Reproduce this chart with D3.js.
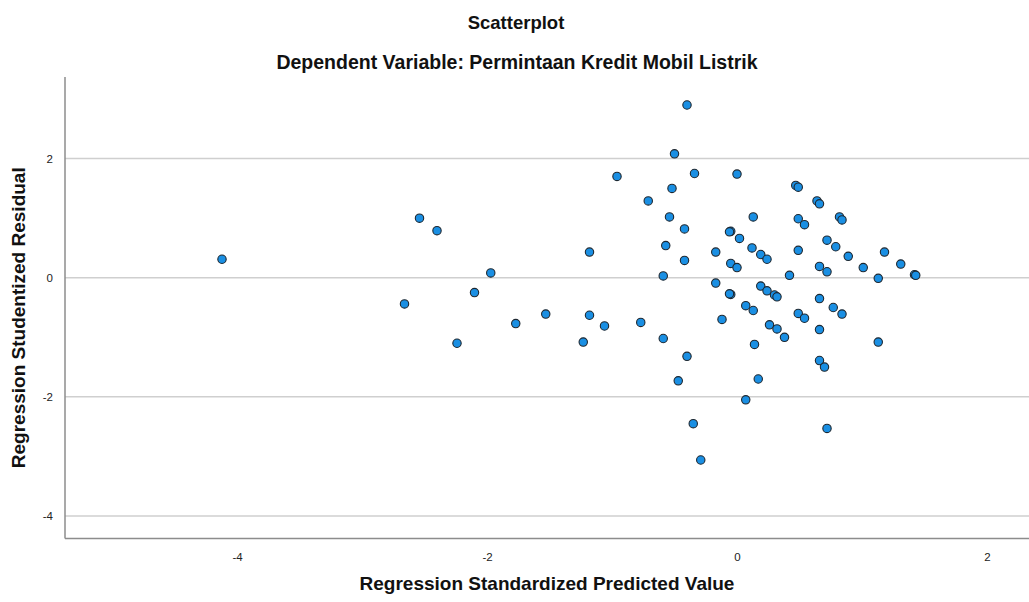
<!DOCTYPE html>
<html><head><meta charset="utf-8">
<script src="https://cdn.jsdelivr.net/npm/d3@7"></script>
<style>body{margin:0;background:#fff}svg{display:block}text{font-family:"Liberation Sans",Arial,sans-serif}</style>
</head><body>
<svg id="c" width="1029" height="602"></svg>
<script>
const predicted = [-4.12,-2.54,-2.40,-1.97,-2.10,-2.66,-2.24,-0.71,-0.52,-0.54,-0.57,-1.18,-0.59,-1.77,-1.53,-1.18,-1.06,-0.77,-1.23,-0.59,
-0.40,-0.50,-0.96,-0.34,0.00,0.47,0.49,0.64,0.66,0.13,-0.42,0.49,0.54,0.82,0.84,-0.05,-0.06,0.02,-0.17,-0.42,
0.12,0.19,0.24,0.49,0.72,0.79,0.89,1.18,1.01,1.31,1.42,1.43,1.13,-0.05,0.00,-0.17,0.42,0.66,0.72,-0.05,
-0.06,0.19,0.24,0.30,0.32,0.07,0.13,0.66,0.49,0.54,0.77,0.84,-0.12,0.26,0.32,0.38,0.66,0.14,1.13,-0.40,
0.66,0.70,-0.47,0.17,0.07,-0.35,0.72,-0.29];
const residual = [0.31,1.00,0.79,0.08,-0.25,-0.44,-1.10,1.29,1.50,1.02,0.54,0.43,0.03,-0.77,-0.61,-0.63,-0.81,-0.75,-1.08,-1.02,
2.90,2.08,1.70,1.75,1.74,1.55,1.52,1.29,1.24,1.02,0.82,0.99,0.89,1.02,0.97,0.78,0.77,0.66,0.43,0.29,
0.50,0.39,0.31,0.46,0.63,0.52,0.36,0.43,0.17,0.23,0.05,0.04,-0.01,0.24,0.17,-0.09,0.04,0.19,0.10,-0.28,
-0.27,-0.14,-0.22,-0.29,-0.32,-0.47,-0.55,-0.35,-0.60,-0.68,-0.50,-0.61,-0.70,-0.79,-0.86,-1.00,-0.87,-1.12,-1.08,-1.32,
-1.39,-1.50,-1.73,-1.70,-2.05,-2.45,-2.53,-3.06];
const xTicks = [-4,-2,0,2];
const yTicks = [-4,-2,0,2];
const xDomain = [-5.376, 2.336];
const yDomain = [-4.378, 3.37];
const chartTitle = "Scatterplot";
const chartSubtitle = "Dependent Variable: Permintaan Kredit Mobil Listrik";
const xLabel = "Regression Standardized Predicted Value";
const yLabel = "Regression Studentized Residual";

const svg = d3.select("#c");
const L = 65, R = 1029, T = 77, B = 538.5;
const x = d3.scaleLinear().domain(xDomain).range([L, R]);
const y = d3.scaleLinear().domain(yDomain).range([B, T]);
const fmt = d => String(d);

// gridlines
svg.append("g").selectAll("line").data(yTicks).join("line")
  .attr("x1", L).attr("x2", R).attr("y1", d => y(d)).attr("y2", d => y(d))
  .attr("stroke", "#cfcfcf").attr("stroke-width", 1.5);

// axes
const xAxis = d3.axisBottom(x).tickValues(xTicks).tickSize(0).tickPadding(14).tickFormat(fmt);
const yAxis = d3.axisLeft(y).tickValues(yTicks).tickSize(0).tickPadding(12).tickFormat(fmt);
const gx = svg.append("g").attr("transform", `translate(0,${B})`).call(xAxis);
const gy = svg.append("g").attr("transform", `translate(${L},0)`).call(yAxis);
[gx, gy].forEach(g => {
  g.select(".domain").attr("stroke", "#8c8c8c").attr("stroke-width", 1.5);
  g.selectAll("text").attr("font-size", 11.5).attr("fill", "#222").style("font-family", "'Liberation Sans', Arial, sans-serif");
});
gx.select(".domain").attr("d", `M${L},0H${R}`);
gy.select(".domain").attr("d", `M0,${T}V${B}`);

// points
const pts = predicted.map((p, i) => ({p, r: residual[i]}));
svg.append("g").selectAll("circle").data(pts).join("circle")
  .attr("cx", d => x(d.p)).attr("cy", d => y(d.r)).attr("r", 4.2)
  .attr("fill", "#1a8fe3").attr("stroke", "#1d2730").attr("stroke-width", 1.1);

// titles
svg.append("text").attr("x", 516).attr("y", 29).attr("text-anchor", "middle")
  .attr("font-size", 18.5).attr("font-weight", "bold").attr("fill", "#111").text(chartTitle);
svg.append("text").attr("x", 517).attr("y", 69).attr("text-anchor", "middle")
  .attr("font-size", 19.5).attr("font-weight", "bold").attr("fill", "#111").text(chartSubtitle);
svg.append("text").attr("x", (L + R) / 2).attr("y", 590).attr("text-anchor", "middle")
  .attr("font-size", 19).attr("font-weight", "bold").attr("fill", "#111").text(xLabel);
svg.append("text").attr("transform", `translate(25,${(T + B) / 2 + 10}) rotate(-90)`).attr("text-anchor", "middle")
  .attr("font-size", 19).attr("font-weight", "bold").attr("fill", "#111").text(yLabel);
</script>
</body></html>
